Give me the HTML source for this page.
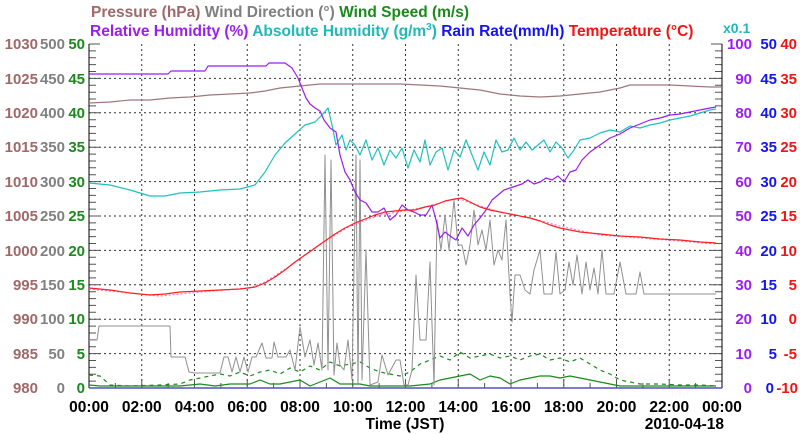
<!DOCTYPE html>
<html><head><meta charset="utf-8"><style>
body{margin:0;background:#fff;}
svg{display:block;font-family:"Liberation Sans",sans-serif;font-weight:bold;}
</style></head><body>
<svg width="800" height="434" viewBox="0 0 800 434">
<rect width="800" height="434" fill="#fff"/>
<text y="17" font-size="15.5" x="91"><tspan fill="#a06868">Pressure (hPa)</tspan> <tspan fill="#808080">Wind Direction (°)</tspan> <tspan fill="#1a8a1a">Wind Speed (m/s)</tspan></text>
<text y="36" font-size="15.5" x="90"><tspan fill="#9a1ef0">Relative Humidity (%)</tspan> <tspan fill="#20b8b8">Absolute Humidity (g/m</tspan><tspan fill="#20b8b8" font-size="10" dy="-6">3</tspan><tspan fill="#20b8b8" dy="6">)</tspan> <tspan fill="#1414f0">Rain Rate(mm/h)</tspan> <tspan fill="#f01414">Temperature (°C)</tspan></text>
<text x="723" y="33" font-size="14" fill="#20b8b8">x0.1</text>
<g stroke="#000" stroke-width="1" stroke-dasharray="2,3" opacity="0.8">
<line x1="89" x2="722" y1="78.4" y2="78.4"/><line x1="89" x2="722" y1="112.8" y2="112.8"/><line x1="89" x2="722" y1="147.2" y2="147.2"/><line x1="89" x2="722" y1="181.6" y2="181.6"/><line x1="89" x2="722" y1="216" y2="216"/><line x1="89" x2="722" y1="250.4" y2="250.4"/><line x1="89" x2="722" y1="284.8" y2="284.8"/><line x1="89" x2="722" y1="319.2" y2="319.2"/><line x1="89" x2="722" y1="353.6" y2="353.6"/>
<line y1="44" y2="388" x1="141.75" x2="141.75"/><line y1="44" y2="388" x1="194.5" x2="194.5"/><line y1="44" y2="388" x1="247.25" x2="247.25"/><line y1="44" y2="388" x1="300" x2="300"/><line y1="44" y2="388" x1="352.75" x2="352.75"/><line y1="44" y2="388" x1="405.5" x2="405.5"/><line y1="44" y2="388" x1="458.25" x2="458.25"/><line y1="44" y2="388" x1="511" x2="511"/><line y1="44" y2="388" x1="563.75" x2="563.75"/><line y1="44" y2="388" x1="616.5" x2="616.5"/><line y1="44" y2="388" x1="669.25" x2="669.25"/>
</g>
<g id="lt" stroke="#555" stroke-width="1">
<path d="M89 44h11M89 50.9h7M89 57.8h7M89 64.6h7M89 71.5h7M89 78.4h11M89 85.3h7M89 92.2h7M89 99h7M89 105.9h7M89 112.8h11M89 119.7h7M89 126.6h7M89 133.4h7M89 140.3h7M89 147.2h11M89 154.1h7M89 161h7M89 167.8h7M89 174.7h7M89 181.6h11M89 188.5h7M89 195.4h7M89 202.2h7M89 209.1h7M89 216h11M89 222.9h7M89 229.8h7M89 236.6h7M89 243.5h7M89 250.4h11M89 257.3h7M89 264.2h7M89 271h7M89 277.9h7M89 284.8h11M89 291.7h7M89 298.6h7M89 305.4h7M89 312.3h7M89 319.2h11M89 326.1h7M89 333h7M89 339.8h7M89 346.7h7M89 353.6h11M89 360.5h7M89 367.4h7M89 374.2h7M89 381.1h7"/>
</g>
<use href="#lt" transform="translate(811,0) scale(-1,1)"/>
<g stroke="#555"><path d="M115.4 388v-5M141.75 388v-9M168.1 388v-5M194.5 388v-9M220.9 388v-5M247.25 388v-9M273.6 388v-5M300 388v-9M326.4 388v-5M352.75 388v-9M379.1 388v-5M405.5 388v-9M431.9 388v-5M458.25 388v-9M484.6 388v-5M511 388v-9M537.4 388v-5M563.75 388v-9M590.1 388v-5M616.5 388v-9M642.9 388v-5M669.25 388v-9M695.6 388v-5"/></g>
<line x1="89" y1="44" x2="89" y2="388" stroke="#000"/>
<line x1="722" y1="44" x2="722" y2="388" stroke="#000"/>
<line x1="89" y1="388" x2="722" y2="388" stroke="#5050c0" stroke-width="1.5"/>
<g fill="none" stroke-width="1.2" stroke-linejoin="round">
<polyline stroke="#1a8a1a" stroke-dasharray="4,4" points="89,375 100,376 110,385 130,386 160,385 180,384 190,380 200,378 210,376 220,374 230,376 240,372 250,376 260,372 270,370 280,374 290,368 300,372 310,366 320,370 330,362 340,366 350,364 360,362 370,368 380,372 390,374 400,376 410,372 420,364 430,360 440,356 450,360 460,352 470,358 480,356 490,354 500,358 510,356 520,360 530,356 540,354 550,360 560,358 570,362 580,358 590,364 600,370 610,374 620,380 640,384 660,384 680,385 700,385 716,386"/>
<polyline stroke="#1a8a1a" points="89,385 100,386 120,386 150,386 180,386 200,384 215,386 230,384 250,384 260,380 270,384 280,384 300,380 310,386 320,382 330,378 340,384 350,384 360,384 370,386 390,386 410,386 430,384 440,380 450,378 460,376 470,374 480,380 490,376 500,378 510,384 520,380 530,378 540,376 550,376 560,378 570,376 580,378 590,380 600,382 620,386 660,386 716,386"/>
<polyline stroke="#909090" stroke-width="1" points="89,340 97,340 99,326 170,326 171,357 185,357 189,372 195,373 220,373 224,357 228,357 232,372 236,357 240,372 244,357 248,372 252,357 256,357 262,343 266,358 272,358 274,342 278,357 286,357 290,350 295,370 300,327 305,357 310,340 314,365 318,343 322,370 325,155 328,370 331,160 334,375 337,343 340,365 344,370 348,340 352,380 356,155 358,385 360,160 362,380 366,250 370,385 378,382 382,355 388,375 396,360 400,360 404,385 408,385 412,370 416,275 420,340 426,340 430,262 434,385 437,220 441,250 445,215 449,250 454,200 458,245 462,245 466,265 470,245 474,210 478,245 482,230 486,250 490,220 494,265 498,250 502,260 506,220 510,294 512,322 515,275 520,275 525,290 530,294 534,270 540,250 544,294 552,294 556,252 560,294 565,290 569,262 573,285 577,255 582,294 586,262 590,290 594,268 598,294 602,250 606,294 614,294 620,262 626,294 636,294 640,272 644,294 650,294 716,294"/>
<polyline stroke="#a07878" points="89,103 110,102 130,100 150,100 170,98 190,97 210,95 230,94 250,93 265,91 280,88 300,86 320,84 340,84 360,84 380,84 400,84 420,85 440,86 460,88 480,90 500,94 520,96 540,97 560,96 580,94 600,92 620,88 630,85 650,85 670,85 690,86 710,87 722,87"/>
<polyline stroke="#20c0c0" points="89,183 110,185 130,190 150,196 165,196 180,193 200,192 220,190 240,189 255,185 265,172 275,155 285,143 295,134 305,125 315,122 322,115 328,108 332,125 336,145 342,135 346,150 350,140 355,145 360,155 366,140 372,160 378,148 384,165 390,150 396,158 402,148 408,168 414,150 420,162 425,140 430,165 436,152 442,148 448,170 454,150 460,157 466,140 472,155 478,170 484,152 490,165 496,140 502,152 508,150 514,138 520,150 526,142 532,150 538,145 544,140 550,152 556,142 562,148 568,158 574,150 580,140 590,138 600,133 610,130 620,132 630,126 640,128 650,125 660,123 670,120 680,118 690,116 700,113 710,110 716,109"/>
<polyline stroke="#9a1ef0" points="89,74 168,74 171,71 205,71 208,66 266,66 269,63 285,63 292,68 298,78 302,88 306,98 310,104 315,108 320,111 324,120 330,128 336,132 340,155 345,172 350,180 355,192 360,200 366,203 372,212 378,212 384,208 390,220 396,215 402,205 408,210 414,212 420,215 426,215 432,205 436,220 440,238 445,232 450,236 456,240 462,228 468,236 474,225 480,218 486,210 492,200 498,195 504,190 510,188 516,186 522,184 528,180 534,184 540,182 546,178 552,180 558,176 564,182 570,172 576,170 582,160 590,152 600,145 610,138 620,134 630,128 640,124 650,120 660,118 670,115 680,114 690,112 700,110 710,108 716,107"/>
<polyline stroke="#ff7ad0" stroke-dasharray="2,2" points="89,289 130,293 160,296 200,292 250,288 265,282 290,266 320,244 350,226 380,215 410,210 430,206 450,200 458,198 470,203 500,212 530,218 560,226 600,235 640,238 680,241 716,244"/>
<polyline stroke="#ff2020" points="89,288 110,290 130,293 150,295 165,294 180,292 200,291 220,290 240,289 255,287 265,283 275,277 285,270 295,262 305,255 315,248 325,241 335,234 345,228 355,223 365,219 375,215 385,212 395,211 405,210 415,210 425,207 435,205 445,201 455,199 462,198 470,202 480,207 490,210 500,212 510,214 520,216 530,218 540,221 550,225 560,228 570,230 580,232 600,234 620,236 640,237 660,239 680,240 700,242 716,243"/>
</g>
<g font-size="15" text-anchor="end">
<g fill="#a06868"><text x="38" y="49">1030</text><text x="38" y="84">1025</text><text x="38" y="118">1020</text><text x="38" y="152">1015</text><text x="38" y="187">1010</text><text x="38" y="221">1005</text><text x="38" y="256">1000</text><text x="38" y="290">995</text><text x="38" y="324">990</text><text x="38" y="359">985</text><text x="38" y="393">980</text></g>
<g fill="#808080"><text x="65" y="49">500</text><text x="65" y="84">450</text><text x="65" y="118">400</text><text x="65" y="152">350</text><text x="65" y="187">300</text><text x="65" y="221">250</text><text x="65" y="256">200</text><text x="65" y="290">150</text><text x="65" y="324">100</text><text x="65" y="359">50</text><text x="65" y="393">0</text></g>
<g fill="#1a8a1a"><text x="85" y="49">50</text><text x="85" y="84">45</text><text x="85" y="118">40</text><text x="85" y="152">35</text><text x="85" y="187">30</text><text x="85" y="221">25</text><text x="85" y="256">20</text><text x="85" y="290">15</text><text x="85" y="324">10</text><text x="85" y="359">5</text><text x="85" y="393">0</text></g>
</g>
<g font-size="15" text-anchor="end">
<g fill="#9a1ef0"><text x="752" y="49">100</text><text x="752" y="84">90</text><text x="752" y="118">80</text><text x="752" y="152">70</text><text x="752" y="187">60</text><text x="752" y="221">50</text><text x="752" y="256">40</text><text x="752" y="290">30</text><text x="752" y="324">20</text><text x="752" y="359">10</text><text x="752" y="393">0</text></g>
<g fill="#1414f0"><text x="777" y="49">50</text><text x="777" y="84">45</text><text x="777" y="118">40</text><text x="777" y="152">35</text><text x="777" y="187">30</text><text x="777" y="221">25</text><text x="777" y="256">20</text><text x="777" y="290">15</text><text x="777" y="324">10</text><text x="777" y="359">5</text><text x="774" y="393">0</text></g>
<g fill="#f01414"><text x="797" y="49">40</text><text x="797" y="84">35</text><text x="797" y="118">30</text><text x="797" y="152">25</text><text x="797" y="187">20</text><text x="797" y="221">15</text><text x="797" y="256">10</text><text x="797" y="290">5</text><text x="797" y="324">0</text><text x="797" y="359">-5</text><text x="798" y="393">-10</text></g>
</g>
<g font-size="15.5" text-anchor="middle" fill="#000">
<text x="89" y="412">00:00</text><text x="141.75" y="412">02:00</text><text x="194.5" y="412">04:00</text><text x="247.25" y="412">06:00</text><text x="300" y="412">08:00</text><text x="352.75" y="412">10:00</text><text x="405.5" y="412">12:00</text><text x="458.25" y="412">14:00</text><text x="511" y="412">16:00</text><text x="563.75" y="412">18:00</text><text x="616.5" y="412">20:00</text><text x="669.25" y="412">22:00</text><text x="722" y="412">00:00</text>
<text x="405" y="429">Time (JST)</text>
<text x="724" y="429" text-anchor="end">2010-04-18</text>
</g>
</svg>
</body></html>
